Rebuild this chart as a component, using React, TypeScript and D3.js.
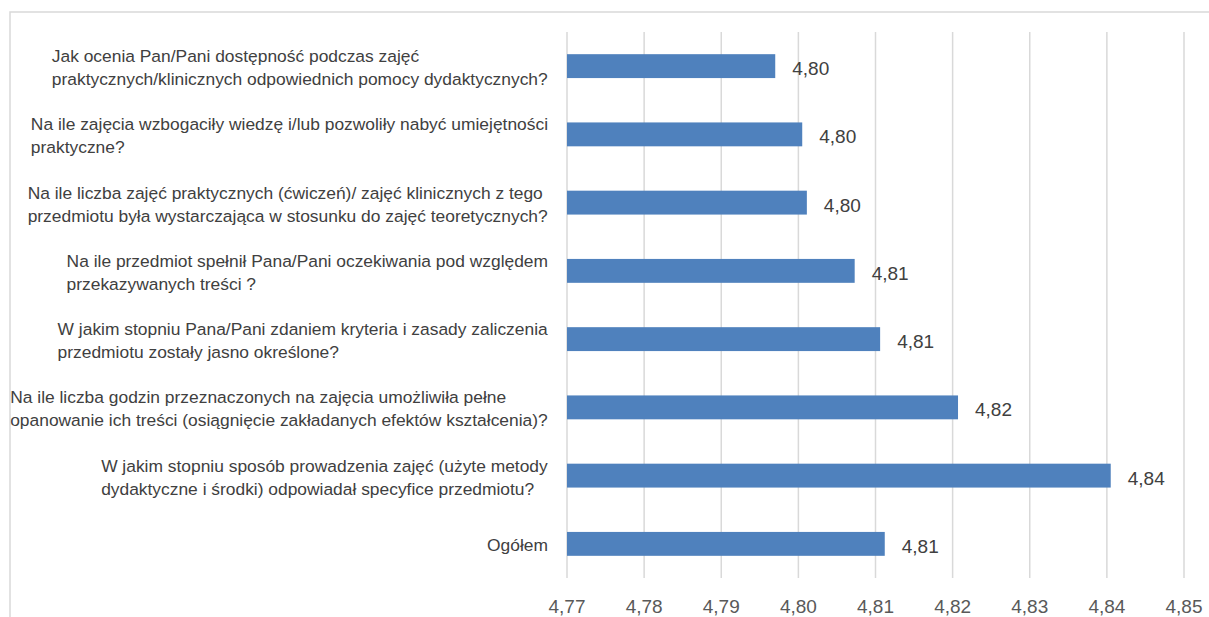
import React, { useEffect, useRef } from "react";
import * as d3 from "d3";

const categories: string[] = [
  "Jak ocenia Pan/Pani dostępność podczas zajęć\npraktycznych/klinicznych odpowiednich pomocy dydaktycznych?",
  "Na ile zajęcia wzbogaciły wiedzę i/lub pozwoliły nabyć umiejętności\npraktyczne?",
  "Na ile liczba zajęć praktycznych (ćwiczeń)/ zajęć klinicznych z tego\nprzedmiotu była wystarczająca w stosunku do zajęć teoretycznych?",
  "Na ile przedmiot spełnił Pana/Pani oczekiwania pod względem\nprzekazywanych treści ?",
  "W jakim stopniu Pana/Pani zdaniem kryteria i zasady zaliczenia\nprzedmiotu zostały jasno określone?",
  "Na ile liczba godzin przeznaczonych na zajęcia umożliwiła pełne\nopanowanie ich treści (osiągnięcie zakładanych efektów kształcenia)?",
  "W jakim stopniu sposób prowadzenia zajęć (użyte metody\ndydaktyczne i środki) odpowiadał specyfice przedmiotu?",
  "Ogółem",
];
const values: number[] = [4.797, 4.8005, 4.8011, 4.8073, 4.8106, 4.8207, 4.8405, 4.8112];
const xTicks: number[] = [4.77, 4.78, 4.79, 4.8, 4.81, 4.82, 4.83, 4.84, 4.85];

const W = 1209;
const H = 617;
const FONT = "'Liberation Sans', Arial, sans-serif";
const fmt = (v: number) => v.toFixed(2).replace(".", ",");

export default function App() {
  const ref = useRef<SVGSVGElement | null>(null);

  useEffect(() => {
    const svg = d3.select(ref.current);
    svg.selectAll("*").remove();

    const x = d3.scaleLinear().domain([4.77, 4.85]).range([567, 1184]);
    const y = d3
      .scaleBand<string>()
      .domain(categories)
      .range([32, 578])
      .paddingInner(0.65)
      .paddingOuter(0.325);

    // chart border
    svg
      .append("rect")
      .attr("x", 10)
      .attr("y", 12)
      .attr("width", W + 20)
      .attr("height", H + 20)
      .attr("fill", "#ffffff")
      .attr("stroke", "#d9d9d9")
      .attr("stroke-width", 1.5);

    // gridlines
    svg
      .append("g")
      .selectAll("line")
      .data(xTicks)
      .join("line")
      .attr("x1", (d) => x(d))
      .attr("x2", (d) => x(d))
      .attr("y1", 32)
      .attr("y2", 578)
      .attr("stroke", "#d9d9d9")
      .attr("stroke-width", 1.5);

    // x tick labels
    svg
      .append("g")
      .selectAll("text")
      .data(xTicks)
      .join("text")
      .attr("x", (d) => x(d))
      .attr("y", 613)
      .attr("text-anchor", "middle")
      .attr("font-family", FONT)
      .attr("font-size", 19)
      .attr("fill", "#595959")
      .text((d) => fmt(d));

    // bars
    svg
      .append("g")
      .selectAll("rect")
      .data(categories)
      .join("rect")
      .attr("x", x(4.77))
      .attr("y", (d) => y(d)!)
      .attr("width", (d, i) => x(values[i]) - x(4.77))
      .attr("height", y.bandwidth())
      .attr("fill", "#4f81bd");

    // value labels
    svg
      .append("g")
      .selectAll("text")
      .data(categories)
      .join("text")
      .attr("x", (d, i) => x(values[i]) + 17)
      .attr("y", (d) => y(d)! + y.bandwidth() / 2 + 9)
      .attr("font-family", FONT)
      .attr("font-size", 19)
      .attr("fill", "#404040")
      .text((d, i) => fmt(values[i]));

    // category labels
    const lineH = 23;
    const cat = svg.append("g");
    categories.forEach((c) => {
      const lines = c.split("\n");
      const cy = y(c)! + y.bandwidth() / 2 + 1.5;
      const g = cat.append("g");
      const t = g
        .append("text")
        .attr("font-family", FONT)
        .attr("font-size", 17.4)
        .attr("fill", "#404040");
      lines.forEach((ln, i) => {
        t.append("tspan")
          .attr("x", 0)
          .attr("y", cy + (i - (lines.length - 1) / 2) * lineH + 6)
          .text(ln);
      });
      const node = t.node() as SVGTextElement;
      const w = node.getBBox().width;
      g.attr("transform", `translate(${548 - w},0)`);
    });
  }, []);

  return (
    <svg
      ref={ref}
      width={W}
      height={H}
      style={{ position: "absolute", left: 0, top: 0, background: "#fff" }}
    />
  );
}
